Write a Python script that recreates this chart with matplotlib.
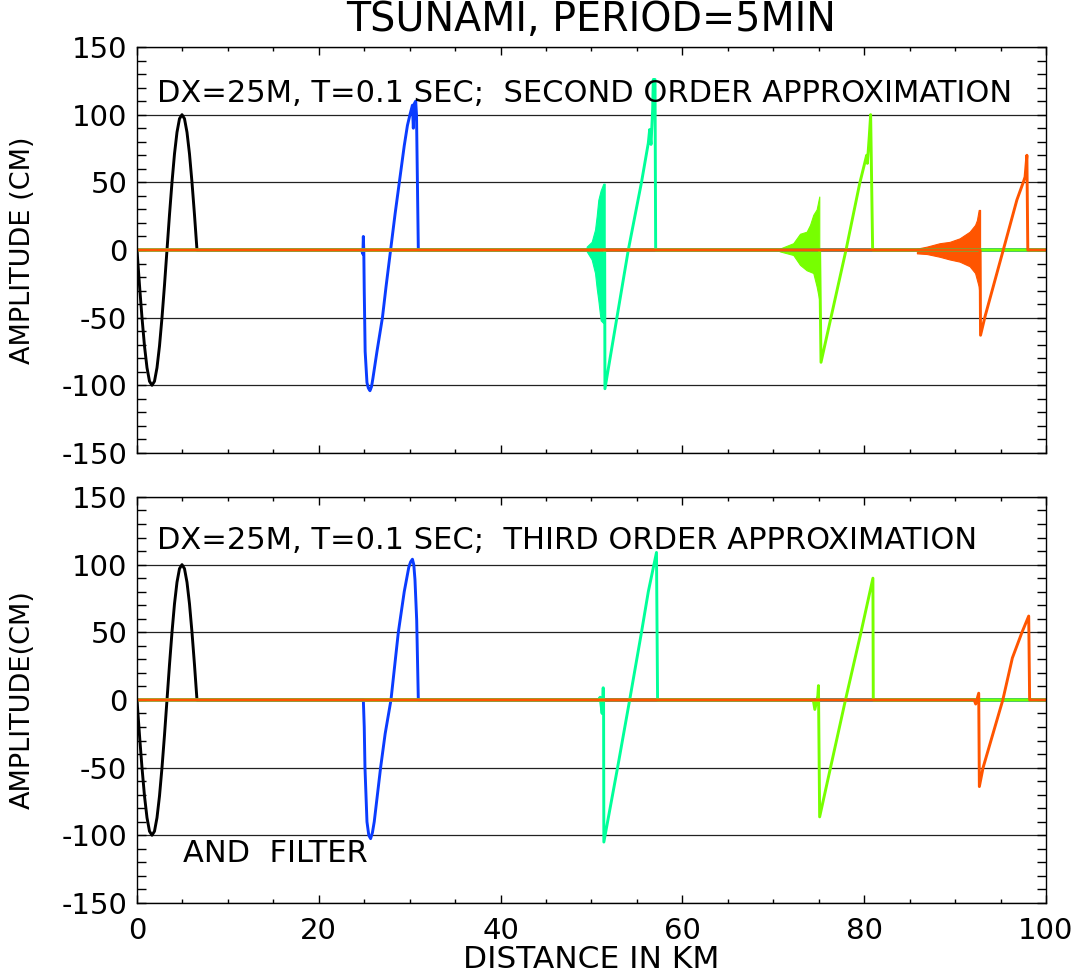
import matplotlib
matplotlib.use("Agg")
import matplotlib.pyplot as plt
from matplotlib.ticker import MultipleLocator

plt.rcParams["axes.unicode_minus"] = False

# ---- values (x in km, amplitude in cm) ----
BLACK_X = [0, 0.275, 0.55, 0.825, 1.1, 1.375, 1.65, 1.925, 2.2, 2.475, 2.75, 3.025, 3.3,
           3.575, 3.85, 4.125, 4.4, 4.675, 4.95, 5.225, 5.5, 5.775, 6.05, 6.325, 6.6, 100]
BLACK_Y = [0, -26, -50, -71, -87, -97, -100, -97, -87, -71, -50, -26, 0,
           26, 50, 71, 87, 97, 100, 97, 87, 71, 50, 26, 0, 0]

# second order approximation (top)
BLUE2_X = [0, 24.7, 24.85, 24.9, 24.95, 25.0, 25.1, 25.3, 25.45, 25.63, 25.8, 25.95, 26.4, 27.0,
           27.4, 27.9, 28.4, 28.86, 29.4, 29.75, 30.03, 30.3, 30.4, 30.5, 30.66, 30.75, 30.95, 100]
BLUE2_Y = [0, 0, -3, 10, 0, -30, -75, -98, -102, -104, -101, -95, -75, -50,
           -27, 0, 27, 50, 77, 92, 100, 107, 90, 108, 110, 100, 0, 0]
CYAN2_X = [0, 49.3, 51.45, 51.48, 54.05, 55.5, 56.25, 56.4, 56.55, 56.73, 56.8, 56.99, 57.06, 100]
CYAN2_Y = [0, 0, 0, -102.5, 0, 50, 79, 89, 78, 104, 126, 126, 0, 0]
GREEN2_X = [0, 75.1, 75.25, 78.0, 79.5, 80.27, 80.35, 80.56, 80.71, 80.93, 100]
GREEN2_Y = [0, 0, -83, 0, 49, 70, 64, 84, 100, 0, 0]
ORANGE2_X = [0, 92.75, 92.8, 93.3, 95.3, 96.8, 97.5, 97.7, 97.9, 98.0, 100]
ORANGE2_Y = [0, 0, -63, -49, 0, 37, 50, 54, 70, 0, 0]

# dispersive ripples ahead of each front (upper / lower envelope)
CYAN_ENV_X = [49.47, 50.02, 50.39, 50.57, 50.75, 51.01, 51.3, 51.45]
CYAN_ENV_HI = [2.5, 6, 15, 25, 37, 44, 49, 49]
CYAN_ENV_LO = [-1, -7, -17, -28, -37, -52, -54, -54]
GREEN_ENV_X = [70.7, 72.2, 72.94, 73.67, 74.04, 74.4, 74.77, 75.06]
GREEN_ENV_HI = [1, 5, 12, 13.5, 18.5, 26, 30, 39.5]
GREEN_ENV_LO = [-1, -3.7, -11, -15, -16, -17, -27, -37]
ORANGE_ENV_X = [85.8, 86.9, 88.3, 89.4, 90.5, 91.6, 92.2, 92.4, 92.6, 92.75]
ORANGE_ENV_HI = [1, 2.5, 5, 6, 8.6, 13.5, 18.5, 22, 29.6, 29.6]
ORANGE_ENV_LO = [-2.5, -3, -5, -7, -8.6, -12, -17, -22, -27, -37]

# third order approximation + filter (bottom)
BLUE3_X = [0, 24.9, 25.0, 25.08, 25.3, 25.5, 25.7, 25.9, 26.1, 26.8, 27.3, 27.94, 28.75, 29.4,
           29.9, 30.1, 30.3, 30.45, 30.58, 30.77, 30.95, 100]
BLUE3_Y = [0, 0, -20, -50, -90, -100, -102.5, -98, -90, -50, -25, 0, 50, 80,
           98, 102, 104, 100, 89, 59, 0, 0]
CYAN3_X = [0, 50.76, 50.95, 51.17, 51.29, 51.33, 51.36, 52.87, 54.2, 55.5, 56.25, 57.15, 57.27, 100]
CYAN3_Y = [0, 0, 2, -10, 9, 0, -105, -50, 0, 50, 80, 109, 0, 0]
GREEN3_X = [0, 74.4, 74.57, 74.9, 74.97, 75.1, 77.94, 79.65, 80.96, 81.0, 100]
GREEN3_Y = [0, 0, -7, 3, 10.6, -86.4, 0, 50, 90, 0, 0]
ORANGE3_X = [0, 92.1, 92.27, 92.6, 92.67, 93.08, 95.25, 96.3, 97.36, 98.1, 98.2, 100]
ORANGE3_Y = [0, 0, -3, 5, -64, -50, 0, 31, 50, 62, 0, 0]

C_BLACK = "black"
C_BLUE = "#0a3cff"
C_CYAN = "#00ff99"
C_GREEN = "#77ff00"
C_ORANGE = "#ff5500"
LW = 2.1
FS = 22


def style_axes(ax, ylabel):
    ax.set_xlim(0, 100)
    ax.set_ylim(-150, 150)
    ax.xaxis.set_major_locator(MultipleLocator(20))
    ax.xaxis.set_minor_locator(MultipleLocator(5))
    ax.yaxis.set_major_locator(MultipleLocator(50))
    ax.yaxis.set_minor_locator(MultipleLocator(10))
    ax.tick_params(which="both", direction="in", top=True, right=True, width=1.0, labelsize=21)
    ax.tick_params(axis="x", which="major", length=6, pad=10)
    ax.tick_params(axis="x", which="minor", length=3)
    ax.tick_params(axis="y", which="both", length=6.5, pad=7)
    for s in ax.spines.values():
        s.set_linewidth(1.0)
    ax.grid(True, axis="y", which="major", color="#222222", linewidth=0.9)
    ax.set_axisbelow(True)
    ax.set_ylabel(ylabel, fontsize=19.5)
    ax.yaxis.set_label_coords(-0.111, 0.5)


fig = plt.figure(figsize=(10.77, 9.75), dpi=100)
ax1 = fig.add_axes([0.1272, 0.5354, 0.844, 0.4164])
ax2 = fig.add_axes([0.1272, 0.0739, 0.844, 0.4164])

# top panel
ax1.plot(BLACK_X, BLACK_Y, color=C_BLACK, lw=LW)
ax1.plot(BLUE2_X, BLUE2_Y, color=C_BLUE, lw=LW)
ax1.fill_between(CYAN_ENV_X, CYAN_ENV_LO, CYAN_ENV_HI, color=C_CYAN, lw=0.8)
ax1.plot(CYAN2_X, CYAN2_Y, color=C_CYAN, lw=LW)
ax1.fill_between(GREEN_ENV_X, GREEN_ENV_LO, GREEN_ENV_HI, color=C_GREEN, lw=0.8)
ax1.plot(GREEN2_X, GREEN2_Y, color=C_GREEN, lw=LW)
ax1.fill_between(ORANGE_ENV_X, ORANGE_ENV_LO, ORANGE_ENV_HI, color=C_ORANGE, lw=0.8)
ax1.plot(ORANGE2_X, ORANGE2_Y, color=C_ORANGE, lw=LW)
style_axes(ax1, "AMPLITUDE (CM)")
ax1.tick_params(axis="x", labelbottom=False)
ax1.text(2.2, 109.5, "DX=25M, T=0.1 SEC;  SECOND ORDER APPROXIMATION", fontsize=FS, va="baseline")

# bottom panel
ax2.plot(BLACK_X, BLACK_Y, color=C_BLACK, lw=LW)
ax2.plot(BLUE3_X, BLUE3_Y, color=C_BLUE, lw=LW)
ax2.plot(CYAN3_X, CYAN3_Y, color=C_CYAN, lw=LW)
ax2.plot(GREEN3_X, GREEN3_Y, color=C_GREEN, lw=LW)
ax2.plot(ORANGE3_X, ORANGE3_Y, color=C_ORANGE, lw=LW)
style_axes(ax2, "AMPLITUDE(CM)")
ax2.text(2.2, 111.5, "DX=25M, T=0.1 SEC;  THIRD ORDER APPROXIMATION", fontsize=FS, va="baseline")
ax2.text(5.06, -120, "AND  FILTER", fontsize=FS, va="baseline")
ax2.set_xlabel("DISTANCE IN KM", fontsize=22.5)
ax2.xaxis.set_label_coords(0.5, -0.103)

fig.text(0.549, 0.968, "TSUNAMI, PERIOD=5MIN", fontsize=28.5, ha="center", va="baseline")

fig.savefig("out.png", dpi=100)
